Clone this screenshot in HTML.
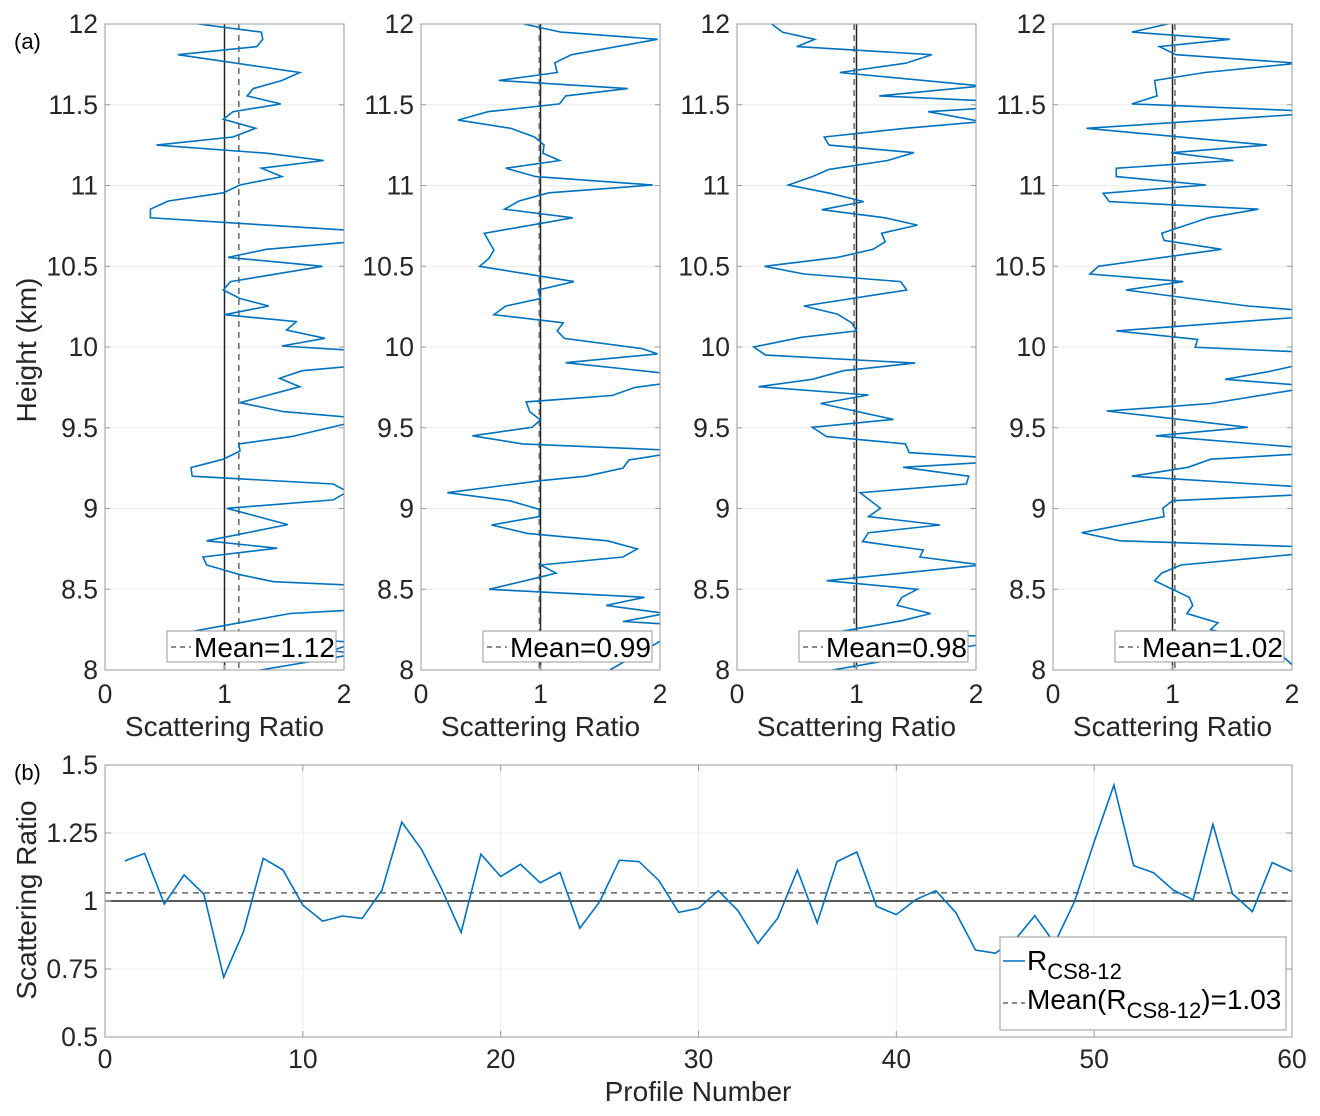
<!DOCTYPE html>
<html><head><meta charset="utf-8">
<style>
html,body{margin:0;padding:0;background:#fff;}
svg{display:block;font-family:"Liberation Sans",sans-serif;}
</style></head>
<body>
<svg id="fig" width="1320" height="1116" viewBox="0 0 1320 1116" xmlns="http://www.w3.org/2000/svg"></svg>
<script>
// ---- Data: panel (a) profiles (scattering ratio vs height km) ----
const p1Val=[0.78,1.31,1.32,1.27,0.61,1.63,1.48,1.24,1.19,1.47,1.07,0.99,1.26,1.07,0.43,1.35,1.83,1.31,1.48,1.13,0.99,0.53,0.38,0.38,2.1,2.05,1.35,1.03,1.82,1.05,0.99,1.13,1.37,1.0,1.60,1.52,1.84,1.48,2.05,2.05,1.65,1.46,1.63,1.13,1.49,2.05,2.05,1.56,1.12,1.13,0.99,0.72,0.73,1.91,2.03,1.91,1.02,1.53,0.85,1.44,0.82,0.85,1.13,1.41,2.05,2.05,1.55,0.74,2.1,1.9,2.1,1.3];
const p1H=[12.0,11.95,11.905,11.86,11.81,11.70,11.65,11.60,11.555,11.505,11.457,11.41,11.354,11.30,11.25,11.20,11.155,11.107,11.055,11.003,10.955,10.904,10.853,10.80,10.72,10.65,10.605,10.555,10.50,10.405,10.353,10.30,10.254,10.20,10.157,10.105,10.054,10.006,9.98,9.88,9.853,9.806,9.754,9.655,9.60,9.565,9.53,9.445,9.40,9.356,9.305,9.253,9.20,9.152,9.104,9.053,9.001,8.90,8.80,8.754,8.70,8.65,8.59,8.547,8.526,8.37,8.35,8.24,8.17,8.12,8.10,8.0];
const p2Val=[0.86,1.17,1.98,1.26,1.12,1.14,0.65,1.73,1.21,1.16,0.56,0.31,0.75,0.95,1.03,1.02,1.16,0.71,0.96,1.94,1.07,0.82,0.70,1.27,0.53,0.61,0.57,0.49,1.28,0.98,1.0,0.71,0.61,1.19,1.14,1.20,1.85,1.98,1.21,2.05,2.05,1.79,1.60,0.88,0.91,1.0,0.93,0.43,0.85,2.05,2.05,1.74,1.69,1.38,1.0,0.22,0.74,0.99,0.99,0.59,0.89,1.56,1.81,1.69,1.0,1.13,0.99,0.57,1.87,1.55,2.05,1.69,2.05,2.1,1.58];
const p2H=[12.0,11.95,11.905,11.81,11.76,11.70,11.65,11.60,11.555,11.505,11.457,11.405,11.354,11.30,11.25,11.20,11.155,11.107,11.055,11.003,10.955,10.904,10.853,10.80,10.704,10.60,10.55,10.50,10.405,10.353,10.30,10.254,10.20,10.15,10.10,10.053,9.99,9.957,9.903,9.837,9.775,9.75,9.70,9.66,9.60,9.548,9.503,9.45,9.40,9.362,9.337,9.30,9.25,9.20,9.172,9.098,9.048,8.995,8.95,8.898,8.846,8.80,8.75,8.70,8.65,8.60,8.574,8.50,8.45,8.40,8.35,8.30,8.285,8.22,8.0];
const p3Val=[0.29,0.38,0.65,0.50,1.63,1.41,0.86,2.05,1.19,2.05,2.05,1.60,2.05,1.41,0.73,0.77,1.48,1.26,0.77,0.63,0.43,0.78,1.06,0.71,1.24,1.51,1.21,1.24,1.14,0.84,0.23,0.56,1.37,1.42,0.56,0.84,0.96,1.0,0.54,0.14,0.24,1.49,0.89,0.63,0.18,1.10,0.70,1.31,0.63,0.75,1.41,1.44,2.05,2.05,1.39,1.94,1.92,1.03,1.20,1.10,1.70,1.10,1.05,1.56,1.53,2.05,0.75,1.51,1.38,1.34,1.62,1.38,0.88,2.05,2.05,0.8];
const p3H=[12.0,11.95,11.905,11.86,11.81,11.757,11.70,11.616,11.555,11.525,11.478,11.457,11.395,11.354,11.30,11.25,11.203,11.155,11.10,11.055,11.003,10.952,10.90,10.85,10.80,10.755,10.704,10.652,10.605,10.555,10.50,10.452,10.405,10.353,10.254,10.204,10.15,10.10,10.06,10.0,9.95,9.90,9.853,9.80,9.754,9.703,9.65,9.552,9.503,9.445,9.40,9.346,9.317,9.284,9.255,9.20,9.152,9.098,9.001,8.95,8.898,8.85,8.795,8.743,8.70,8.65,8.553,8.50,8.45,8.40,8.35,8.305,8.24,8.21,8.16,8.0];
const p4Val=[0.96,0.66,1.48,0.89,1.03,2.05,1.27,0.85,0.87,0.66,2.05,2.05,0.28,1.79,0.99,1.51,0.53,0.53,1.28,0.42,0.47,1.72,1.30,0.91,0.93,1.41,0.38,0.31,1.09,0.61,1.63,2.05,2.05,0.53,1.21,1.19,2.05,2.05,1.80,1.44,2.05,2.05,1.32,0.45,1.63,0.86,2.05,2.05,1.32,1.13,0.66,2.05,2.05,1.0,0.92,0.93,0.24,0.56,2.05,2.05,1.07,0.91,0.85,1.14,1.17,1.12,1.38,1.32,1.6,1.9,2.05];
const p4H=[12.0,11.95,11.905,11.86,11.81,11.757,11.70,11.65,11.555,11.505,11.463,11.44,11.354,11.25,11.203,11.155,11.107,11.055,11.003,10.952,10.90,10.853,10.80,10.704,10.66,10.605,10.50,10.452,10.405,10.353,10.254,10.229,10.184,10.10,10.047,9.998,9.97,9.888,9.847,9.80,9.765,9.738,9.65,9.604,9.503,9.45,9.379,9.337,9.305,9.255,9.20,9.135,9.084,9.048,9.001,8.95,8.85,8.80,8.764,8.718,8.65,8.60,8.553,8.45,8.40,8.35,8.293,8.25,8.2,8.1,8.0];
const panelMeans=[1.12,0.99,0.98,1.02];
const panelXTicks=[0,1,2];
const panelYTicks=[8,8.5,9,9.5,10,10.5,11,11.5,12];
// ---- Data: panel (b) ----
const profileNums=[1,2,3,4,5,6,7,8,9,10,11,12,13,14,15,16,17,18,19,20,21,22,23,24,25,26,27,28,29,30,31,32,33,34,35,36,37,38,39,40,41,42,43,44,45,46,47,48,49,50,51,52,53,54,55,56,57,58,59,60];
const ratioVals=[1.147,1.175,0.989,1.096,1.025,0.72,0.887,1.157,1.114,0.985,0.926,0.945,0.936,1.04,1.29,1.19,1.047,0.885,1.172,1.09,1.135,1.067,1.105,0.90,0.997,1.15,1.145,1.075,0.958,0.973,1.038,0.964,0.844,0.936,1.114,0.92,1.145,1.18,0.98,0.95,1.006,1.038,0.958,0.82,0.808,0.857,0.946,0.844,0.997,1.218,1.426,1.13,1.104,1.04,1.004,1.282,1.026,0.961,1.141,1.108];
const ratioMean=1.03;
const bXTicks=[0,10,20,30,40,50,60];
const bYTicks=[0.5,0.75,1,1.25,1.5];
const bYTickLabels=["0.5","0.75","1","1.25","1.5"];

const NS="http://www.w3.org/2000/svg";
const svg=document.getElementById('fig');
function mk(tag,attrs,parent,text){const e=document.createElementNS(NS,tag);for(const k in attrs)e.setAttribute(k,attrs[k]);if(text!==undefined)e.textContent=text;(parent||svg).appendChild(e);return e;}
const BLUE="#0072BD";
const TF=26.5, LF=28;

const panelLefts=[105,421,737,1053];
const PW=239, PT=24, PB=670;
const pVals=[p1Val,p2Val,p3Val,p4Val];
const pHs=[p1H,p2H,p3H,p4H];
const defs=mk('defs',{});
panelLefts.forEach((L,i)=>{
  const xs=v=>L+v/2*PW;
  const ys=h=>PB-(h-8)/4*(PB-PT);
  const g=mk('g',{});
  
  
  panelYTicks.forEach(t=>{ if(t>8&&t<12){const l=mk('line',{x1:L,x2:L+PW,y1:ys(t),y2:ys(t),stroke:'#ececec','stroke-width':1},g);}});
  const cp=mk('clipPath',{id:'cp'+i},defs);mk('rect',{x:L,y:PT,width:PW,height:PB-PT},cp);
  const r=mk('line',{x1:xs(1),x2:xs(1),y1:PT,y2:PB,stroke:'#222','stroke-width':1.5},g);
  
  const m=mk('line',{x1:xs(panelMeans[i]),x2:xs(panelMeans[i]),y1:PT,y2:PB,stroke:'#666','stroke-width':1.5,'stroke-dasharray':'6,5'},g);
  
  const pts=pVals[i].map((v,k)=>xs(v).toFixed(1)+','+ys(pHs[i][k]).toFixed(1)).join(' ');
  const pl=mk('polyline',{points:pts,fill:'none',stroke:BLUE,'stroke-width':1.6,'clip-path':'url(#cp'+i+')'},g);
  
  const bx=mk('rect',{x:L,y:PT,width:PW,height:PB-PT,fill:'none',stroke:'#999','stroke-width':1},g);
  
  panelYTicks.forEach(t=>{
    mk('line',{x1:L,x2:L+5,y1:ys(t),y2:ys(t),stroke:'#999'},g);
    mk('line',{x1:L+PW,x2:L+PW-5,y1:ys(t),y2:ys(t),stroke:'#999'},g);
    const tx=mk('text',{x:L-7,y:ys(t)+9,'text-anchor':'end','font-size':TF,fill:'#262626'},g,String(t));
    
  });
  panelXTicks.forEach(t=>{
    mk('line',{x1:xs(t),x2:xs(t),y1:PB,y2:PB-5,stroke:'#999'},g);
    const tx=mk('text',{x:xs(t),y:703,'text-anchor':'middle','font-size':TF,fill:'#262626'},g,String(t));
    
  });
  const xt=mk('text',{x:L+PW/2,y:736,'text-anchor':'middle','font-size':LF,fill:'#262626'},g,'Scattering Ratio');
  
  const lg=mk('g',{},g);
  
  mk('rect',{x:L+62,y:631,width:169,height:31,fill:'#fff',stroke:'#999'},lg);
  mk('line',{x1:L+66,x2:L+86,y1:647,y2:647,stroke:'#666','stroke-width':1.5,'stroke-dasharray':'5,4'},lg);
  const lt=mk('text',{x:L+89,y:657,'font-size':LF,fill:'#000'},lg,'Mean='+panelMeans[i].toFixed(2));
  
});
let t=mk('text',{x:0,y:0,'text-anchor':'middle','font-size':LF,fill:'#262626',transform:'translate(36,350) rotate(-90)'},svg,'Height (km)');

t=mk('text',{x:14,y:49,'font-size':22,fill:'#000'},svg,'(a)');


// ---- panel (b) ----
const BL=105,BR=1292,BT=765,BB=1037;
const bx=n=>BL+n/60*(BR-BL);
const by=v=>BB-(v-0.5)/1*(BB-BT);
const gb=mk('g',{});

bXTicks.forEach(n=>{ if(n>0&&n<60){const l=mk('line',{x1:bx(n),x2:bx(n),y1:BT,y2:BB,stroke:'#ececec'},gb);}});
bYTicks.forEach(v=>{ if(v>0.5&&v<1.5){const l=mk('line',{x1:BL,x2:BR,y1:by(v),y2:by(v),stroke:'#ececec'},gb);}});
let e=mk('line',{x1:BL,x2:BR,y1:by(1),y2:by(1),stroke:'#222','stroke-width':1.5},gb);

e=mk('line',{x1:BL,x2:BR,y1:by(ratioMean),y2:by(ratioMean),stroke:'#666','stroke-width':1.5,'stroke-dasharray':'6,5'},gb);

e=mk('polyline',{points:profileNums.map((n,k)=>bx(n).toFixed(1)+','+by(ratioVals[k]).toFixed(1)).join(' '),fill:'none',stroke:BLUE,'stroke-width':1.6},gb);

e=mk('rect',{x:BL,y:BT,width:BR-BL,height:BB-BT,fill:'none',stroke:'#999'},gb);

bXTicks.forEach(n=>{
  mk('line',{x1:bx(n),x2:bx(n),y1:BB,y2:BB-6,stroke:'#999'},gb);
  mk('line',{x1:bx(n),x2:bx(n),y1:BT,y2:BT+6,stroke:'#999'},gb);
  const tx=mk('text',{x:bx(n),y:1068,'text-anchor':'middle','font-size':TF,fill:'#262626'},gb,String(n));
  
});
bYTicks.forEach((v,k)=>{
  mk('line',{x1:BL,x2:BL+6,y1:by(v),y2:by(v),stroke:'#999'},gb);
  mk('line',{x1:BR,x2:BR-6,y1:by(v),y2:by(v),stroke:'#999'},gb);
  const tx=mk('text',{x:98,y:by(v)+9,'text-anchor':'end','font-size':TF,fill:'#262626'},gb,bYTickLabels[k]);
  
});
e=mk('text',{x:698,y:1101,'text-anchor':'middle','font-size':LF,fill:'#262626'},svg,'Profile Number');

e=mk('text',{x:0,y:0,'text-anchor':'middle','font-size':LF,fill:'#262626',transform:'translate(36,900) rotate(-90)'},svg,'Scattering Ratio');

e=mk('text',{x:14,y:780,'font-size':22,fill:'#000'},svg,'(b)');

const lgb=mk('g',{});

mk('rect',{x:1000,y:937,width:286,height:93,fill:'#fff',stroke:'#999'},lgb);
mk('line',{x1:1003,x2:1025,y1:961,y2:961,stroke:BLUE,'stroke-width':1.6},lgb);
e=mk('text',{x:1027,y:970,'font-size':LF,fill:'#000'},lgb);

mk('tspan',{},e,'R');mk('tspan',{dy:9,'font-size':22},e,'CS8-12');
mk('line',{x1:1003,x2:1025,y1:1003,y2:1003,stroke:'#666','stroke-width':1.5,'stroke-dasharray':'5,4'},lgb);
e=mk('text',{x:1027,y:1009,'font-size':LF,fill:'#000'},lgb);

mk('tspan',{},e,'Mean(R');mk('tspan',{dy:9,'font-size':22},e,'CS8-12');mk('tspan',{dy:-9},e,')=1.03');
</script>
</body></html>
